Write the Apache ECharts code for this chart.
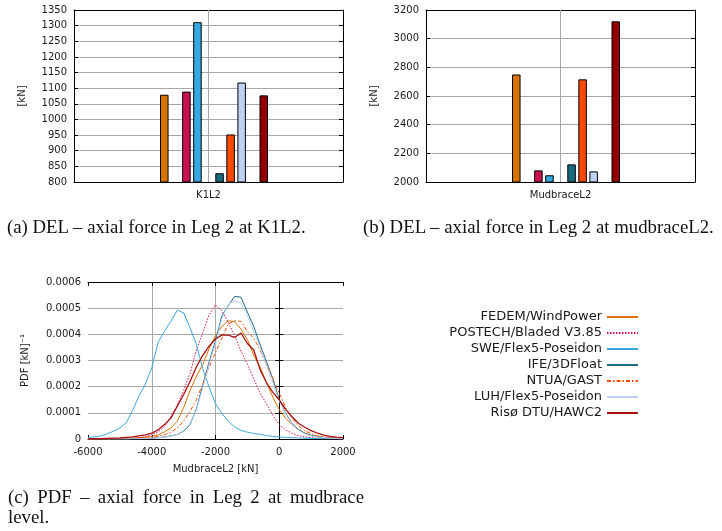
<!DOCTYPE html>
<html><head><meta charset="utf-8">
<script src="https://cdn.jsdelivr.net/npm/echarts@6/dist/echarts.min.js"></script>
<style>
html,body{margin:0;padding:0;background:#fff;}
#wrap{position:relative;width:722px;height:531px;overflow:hidden;}
#chart{position:absolute;left:0;top:0;width:722px;height:531px;}
.cap{position:absolute;font-family:'Liberation Serif','Times New Roman',serif;font-size:18.8px;color:#111;line-height:20px;white-space:nowrap;}
#capC{white-space:normal;text-align:justify;text-align-last:left;width:356px;}
</style></head><body>
<div id="wrap">
<div id="chart"></div>
<div class="cap" style="left:7px;top:217px;">(a) DEL – axial force in Leg 2 at K1L2.</div>
<div class="cap" style="left:363px;top:217px;">(b) DEL – axial force in Leg 2 at mudbraceL2.</div>
<div class="cap" id="capC" style="left:8px;top:487px;">(c) PDF – axial force in Leg 2 at mudbrace level.</div>
</div>
<script>
// ---- data ----
const modelNames = ['FEDEM/WindPower','POSTECH/Bladed V3.85','SWE/Flex5-Poseidon','IFE/3DFloat','NTUA/GAST','LUH/Flex5-Poseidon','Risø DTU/HAWC2'];
const k1l2Category = ['K1L2'];
const mudbraceCategory = ['MudbraceL2'];
const k1l2Del = [1079, 1089, 1311, 828, 952, 1118, 1077];      // kN
const mudbraceDel = [2750, 2081, 2047, 2123, 2716, 2074, 3121]; // kN
const k1l2Ticks = [800, 1350, 50];
const mudbraceTicks = [2000, 3200, 200];

// PDF of axial force at mudbrace level; x in kN, y in 1e-4 1/kN
const pdfX = [-6000,-5800,-5600,-5400,-5200,-5000,-4800,-4600,-4400,-4200,-4000,-3800,-3600,-3400,-3200,-3000,-2800,-2600,-2400,-2200,-2000,-1800,-1600,-1400,-1200,-1000,-800,-600,-400,-200,0,200,400,600,800,1000,1200,1400,1600,1800,2000];
const pdfFedem   = [0,0,0.01,0.01,0.01,0.02,0.02,0.03,0.05,0.07,0.10,0.16,0.27,0.42,0.68,1.20,1.85,2.40,2.85,3.45,3.95,4.30,4.52,4.48,4.20,3.80,3.20,2.75,2.15,1.60,1.12,0.80,0.55,0.36,0.23,0.14,0.09,0.06,0.04,0.02,0.01];
const pdfPostech = [0,0,0,0,0.01,0.01,0.02,0.03,0.05,0.09,0.16,0.27,0.48,0.85,1.30,1.85,2.50,3.40,4.05,4.75,5.12,4.90,4.45,3.95,3.35,2.85,2.30,1.75,1.35,0.90,0.55,0.35,0.22,0.13,0.08,0.05,0.03,0.02,0.01,0.01,0];
const pdfSwe     = [0.06,0.08,0.12,0.20,0.30,0.42,0.62,1.10,1.65,2.10,2.72,3.70,4.12,4.50,4.92,4.82,4.25,3.62,2.68,1.98,1.35,0.98,0.68,0.46,0.33,0.26,0.21,0.18,0.13,0.10,0.08,0.06,0.05,0.04,0.03,0.02,0.02,0.01,0.01,0.01,0.01];
const pdfIfe     = [0,0,0,0,0,0,0,0.01,0.01,0.02,0.03,0.05,0.08,0.12,0.17,0.30,0.55,1.15,2.05,2.95,3.75,4.70,5.10,5.45,5.42,4.85,4.30,3.60,2.95,2.30,1.50,0.98,0.60,0.36,0.22,0.14,0.09,0.06,0.04,0.03,0.02];
const pdfNtua    = [0,0,0,0,0,0.01,0.01,0.02,0.03,0.04,0.06,0.10,0.16,0.26,0.42,0.68,1.05,1.50,2.10,2.75,3.30,3.85,4.40,4.52,4.50,4.10,3.85,3.40,2.85,2.30,1.75,1.20,0.80,0.50,0.32,0.20,0.12,0.08,0.05,0.03,0.02];
const pdfLuh     = [0,0,0,0,0,0,0,0.01,0.01,0.02,0.03,0.05,0.07,0.11,0.18,0.32,0.60,1.10,1.95,2.85,3.65,4.60,5.15,5.28,5.20,4.70,4.10,3.50,2.80,2.15,1.45,0.95,0.58,0.34,0.20,0.12,0.08,0.05,0.03,0.02,0.01];
const pdfRiso    = [0,0.01,0.01,0.02,0.03,0.04,0.06,0.08,0.12,0.16,0.22,0.35,0.55,0.80,1.25,1.70,2.20,2.75,3.20,3.55,3.82,3.98,3.97,3.88,4.05,3.65,3.40,2.65,2.15,1.78,1.50,1.13,0.85,0.60,0.45,0.32,0.22,0.15,0.10,0.07,0.05];
const pdfUnit = 1e-4;
const pdfXTicks = [-6000, 2000, 2000];
const pdfYTicks = [0, 0.0006, 0.0001];

// ---- style ----
const barColors  = ['#d97300','#c8124f','#38a8e2','#1b6a7d','#ff4800','#bfd2f6','#930000'];
const lineColors = ['#dc7200','#d0145a','#3aa8e0','#1d6b80','#ff4d00','#bcd0f5','#a80f0f'];
const lineTypes  = ['solid',[1.5,1.5],'solid','solid',[4,2,1.5,2],'solid','solid'];
// slot order within the bar cluster (null = empty slot); slot 5 is the cluster centre
const barSlots = [null,0,null,1,2,null,3,4,5,null,6];
const centreSlot = 5;

const FONT = 'DejaVu Sans';
const GRID = '#a8a8a8';
const txt = {fontFamily: FONT, fontSize: 10, color: '#1a1a1a'};

function valAxisY(gridIndex, t, left, extra) {
  return Object.assign({
    type: 'value', gridIndex, min: t[0], max: t[1], interval: t[2],
    position: left ? 'left' : 'right',
    axisLine: {show: true, lineStyle: {color: '#000', width: 1}},
    axisTick: {show: true, inside: true, length: 4, lineStyle: {color: '#000'}},
    axisLabel: left ? Object.assign({show: true, margin: 7, formatter: v => String(v)}, txt) : {show: false},
    splitLine: left ? {show: true, showMinLine: false, showMaxLine: false, lineStyle: {color: GRID, width: 1}} : {show: false}
  }, extra || {});
}
function catAxisX(gridIndex, cats, bottom) {
  return {
    type: 'category', gridIndex, data: cats, position: bottom ? 'bottom' : 'top',
    axisLine: {show: true, lineStyle: {color: '#000', width: 1}},
    axisTick: {show: true, inside: true, alignWithLabel: true, length: 4, lineStyle: {color: '#000'}},
    axisLabel: bottom ? Object.assign({show: true, margin: 8}, txt) : {show: false},
    splitLine: {show: false}
  };
}

const grids = [
  {left: 74, top: 10, width: 269, height: 172},
  {left: 426, top: 10, width: 269, height: 172},
  {left: 88, top: 282, width: 255, height: 157}
];

const xAxes = [
  catAxisX(0, k1l2Category, true), catAxisX(0, k1l2Category, false),
  catAxisX(1, mudbraceCategory, true), catAxisX(1, mudbraceCategory, false),
  {
    type: 'value', gridIndex: 2, min: pdfXTicks[0], max: pdfXTicks[1], interval: pdfXTicks[2], position: 'bottom',
    name: 'MudbraceL2 [kN]', nameLocation: 'middle', nameGap: 25, nameTextStyle: txt,
    axisLine: {show: true, onZero: false, lineStyle: {color: '#000', width: 1}},
    axisTick: {show: true, inside: true, length: 4, lineStyle: {color: '#000'}},
    axisLabel: Object.assign({margin: 8, formatter: v => String(v)}, txt),
    splitLine: {show: true, showMinLine: false, showMaxLine: false, lineStyle: {color: GRID, width: 1}}
  },
  {
    type: 'value', gridIndex: 2, min: pdfXTicks[0], max: pdfXTicks[1], interval: pdfXTicks[2], position: 'top',
    axisLine: {show: true, onZero: false, lineStyle: {color: '#000', width: 1}},
    axisTick: {show: true, inside: true, length: 4, lineStyle: {color: '#000'}},
    axisLabel: {show: false}, splitLine: {show: false}
  }
];

const yAxes = [
  valAxisY(0, k1l2Ticks, true, {name: '[kN]', nameLocation: 'middle', nameGap: 47, nameRotate: 90, nameTextStyle: txt}),
  valAxisY(0, k1l2Ticks, false),
  valAxisY(1, mudbraceTicks, true, {name: '[kN]', nameLocation: 'middle', nameGap: 47, nameRotate: 90, nameTextStyle: txt}),
  valAxisY(1, mudbraceTicks, false),
  valAxisY(2, pdfYTicks, true, {name: 'PDF [kN]⁻¹', nameLocation: 'middle', nameGap: 58, nameRotate: 90, nameTextStyle: txt}),
  valAxisY(2, pdfYTicks, false)
];
yAxes[4].axisLabel.formatter = v => (v === 0 ? '0' : v.toFixed(4));
yAxes[4].axisLabel.margin = 7;

const series = [];
// PDF lines first (legend uses them)
const pdfSets = [pdfFedem, pdfPostech, pdfSwe, pdfIfe, pdfNtua, pdfLuh, pdfRiso];
pdfSets.forEach((ys, i) => {
  series.push({
    type: 'line', name: modelNames[i], xAxisIndex: 4, yAxisIndex: 4,
    symbol: 'none', showSymbol: false, silent: true, clip: true,
    lineStyle: {color: lineColors[i], width: i === 6 ? 1.3 : 1, type: lineTypes[i]},
    itemStyle: {color: lineColors[i]},
    data: pdfX.map((x, k) => [x, ys[k] * pdfUnit]),
    z: 3 + i
  });
});

function addBars(values, xi, yi, cat, tag) {
  barSlots.forEach((s, k) => {
    const ser = {
      type: 'bar', name: tag + '-' + k, xAxisIndex: xi, yAxisIndex: yi,
      barWidth: 8.5, barGap: '30%', silent: true,
      itemStyle: {color: s == null ? 'transparent' : barColors[s], borderColor: '#000', borderWidth: s == null ? 0 : 1},
      data: [s == null ? null : values[s]]
    };
    if (k === centreSlot) {
      ser.markLine = {
        silent: true, symbol: 'none', label: {show: false},
        lineStyle: {color: GRID, type: 'solid', width: 1},
        data: [{xAxis: cat}]
      };
    }
    series.push(ser);
  });
}
addBars(k1l2Del, 0, 0, k1l2Category[0], 'a');
addBars(mudbraceDel, 2, 2, mudbraceCategory[0], 'b');

const chart = echarts.init(document.getElementById('chart'), null, {renderer: 'canvas'});
chart.setOption({
  animation: false,
  backgroundColor: '#fff',
  grid: grids,
  xAxis: xAxes,
  yAxis: yAxes,
  legend: {
    data: modelNames, orient: 'vertical', align: 'right',
    right: 83, top: 309, padding: 0, itemGap: 0,
    itemWidth: 31, itemHeight: 10,
    itemStyle: {opacity: 0, color: 'transparent', borderColor: 'transparent', borderWidth: 0},
    textStyle: {fontFamily: FONT, fontSize: 13, color: '#1a1a1a', lineHeight: 16},
    selectedMode: false
  },
  series
});
</script>
</body></html>
